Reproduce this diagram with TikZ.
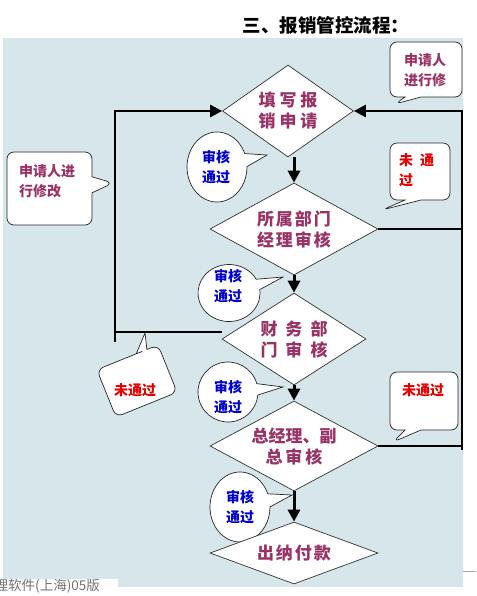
\documentclass[tikz,border=0pt]{standalone}
\usepackage{fontspec}
\newfontfamily\cjk{Noto Sans CJK SC}
\usetikzlibrary{shapes.geometric,shapes.callouts,arrows.meta}
\definecolor{bgc}{RGB}{214,230,234}
\definecolor{maroon}{RGB}{153,51,102}
\definecolor{okblue}{RGB}{0,0,204}
\definecolor{nored}{RGB}{228,0,0}
\begin{document}
\begin{tikzpicture}[x=1pt,y=1pt,
  dia/.style={diamond, draw=black!80, line width=0.7pt, fill=white, inner sep=0pt,
    align=center, text=maroon, font=\cjk\bfseries\fontsize{17}{21}\selectfont},
  flow/.style={line width=3pt, -{Triangle[length=12pt,width=12pt]}},
  loopline/.style={line width=2.6pt, line join=miter},
  looparrow/.style={line width=2.6pt, line join=miter, -{Triangle[length=12pt,width=12pt]}},
  bub/.style={rectangle callout, rounded corners=7pt, draw=black!85, line width=0.7pt,
    fill=white, inner sep=0pt, callout pointer width=16pt},
  ebub/.style={ellipse callout, draw=black!85, line width=0.7pt, fill=white,
    inner sep=0pt, callout pointer arc=22},
  btxt/.style={font=\cjk\bfseries\fontsize{14}{20}\selectfont, inner sep=0pt},
  oktxt/.style={btxt, text=okblue, align=center},
  notxt/.style={btxt, text=nored},
  modtxt/.style={btxt, text=maroon},
  foottxt/.style={anchor=base east, inner sep=0pt, text=black!55, font=\cjk\fontsize{13.5}{14}\selectfont}
]
\useasboundingbox (0,0) rectangle (476,-596);
\fill[white] (0,0) rectangle (476,-596);
% background
\fill[bgc] (3,-38) rectangle (463,-587);
\fill[white] (0,-579) rectangle (118,-596);
% bottom page text (partly hidden)
\begin{scope}
\clip (0,-579) rectangle (118,-596);
\node[foottxt] (foot) at (100,-590) {管理软件(上海)05版};
\end{scope}
\draw[black!35, line width=0.8pt] (463,-571) -- (476,-571);

% title
\node[font=\cjk\bfseries\fontsize{18.5}{20}\selectfont, inner sep=0pt] (title) at (326,-25) {三、报销管控流程：};

% ellipse callouts (behind diamonds)
\node[ebub, minimum width=60pt, minimum height=70pt, callout absolute pointer={(267,-155)}] (e1) at (217,-167) {};
\node[oktxt] (e1t) at (216,-167) {审核\\通过};
\node[ebub, minimum width=62pt, minimum height=57pt, callout absolute pointer={(283,-277)}] (e2) at (229,-293) {};
\node[oktxt] (e2t) at (228,-286) {审核\\通过};
\node[ebub, minimum width=60pt, minimum height=60pt, callout absolute pointer={(283,-387)}] (e3) at (228,-392) {};
\node[oktxt] (e3t) at (228,-397) {审核\\通过};
\node[ebub, minimum width=60pt, minimum height=70pt, callout absolute pointer={(292,-495)}] (e4) at (240,-507) {};
\node[oktxt] (e4t) at (240,-507) {审核\\通过};

% diamonds
\node[dia, minimum width=131pt, minimum height=92pt, aspect=1.42] (d1) at (288,-111)
  {填\hspace{4pt}写\hspace{4pt}报\\销\hspace{4pt}申\hspace{4pt}请};
\node[dia, minimum width=168pt, minimum height=92pt, aspect=1.83] (d2) at (294,-229)
  {所\hspace{2pt}属\hspace{2pt}部\hspace{2pt}门\\经\hspace{2pt}理\hspace{2pt}审\hspace{2pt}核};
\node[dia, minimum width=144pt, minimum height=92pt, aspect=1.57] (d3) at (294,-339)
  {财\hspace{8pt}务\hspace{8pt}部\\门\hspace{8pt}审\hspace{8pt}核};
\node[dia, minimum width=168pt, minimum height=90pt, aspect=1.87] (d4) at (294,-446)
  {总经理、副\\总\hspace{3pt}审\hspace{3pt}核};
\node[dia, minimum width=168pt, minimum height=62pt, aspect=2.7] (d5) at (294,-553)
  {出\hspace{2pt}纳\hspace{2pt}付\hspace{2pt}款};

% main flow arrows
\draw[flow] (d2.north |- d1.south) -- (d2.north);
\draw[flow] (d2.south) -- (d3.north);
\draw[flow] (d3.south) -- (d4.north);
\draw[flow] (d4.south) -- (d5.north);

% feedback loops
\coordinate (lt) at (115,-111);
\coordinate (lb) at (115,-332);
\coordinate (lx) at (115,-342);
\coordinate (rt) at (462,-111);
\coordinate (rb) at (462,-450);
\draw[looparrow] (lx) -- (lt) -- (d1.west);
\draw[loopline] (lb) -- (d3.west |- lb);
\draw[looparrow] (rb) -- (rt) -- (d1.east);
\draw[line width=2pt] (d2.east) -- (d2.east -| rt);
\draw[line width=2.2pt] (d4.east) -- (d4.east -| rt);

% rectangle callouts
\node[bub, minimum width=72pt, minimum height=55pt, callout absolute pointer={(395,-104)}] (c1) at (426,-69.5) {};
\node[modtxt, align=center] (c1t) at (425,-70) {申请人\\进行修};
\node[bub, minimum width=85pt, minimum height=73pt, callout absolute pointer={(113,-183)}] (c2) at (49.5,-188.5) {};
\node[modtxt, align=left, anchor=west] (c2t) at (19,-181) {申请人进\\行修改};
\node[bub, minimum width=60pt, minimum height=57pt, callout absolute pointer={(382,-210)}] (c3) at (420,-171.5) {};
\node[notxt, align=left, anchor=west] (c3t) at (399,-170) {未\hspace{7pt}通\\过};
% tilted callout, drawn directly
\begin{scope}[shift={(137,-381)}, rotate=22]
\filldraw[fill=white, draw=black!85, line width=0.7pt, rounded corners=7pt]
  (-10,25.5) -- (9,25.5) [sharp corners] -- (9.5,25.5) -- (25.4,41.5) -- (21,25.5)
  [rounded corners=7pt] -- (33,25.5) -- (33,-25.5) -- (-33,-25.5) -- (-33,25.5) -- cycle;
\end{scope}
\node[notxt] (c4t) at (135,-390) {未通过};
\node[bub, minimum width=68pt, minimum height=58pt, callout absolute pointer={(393,-442)}] (c5) at (424,-401) {};
\node[notxt] (c5t) at (423,-390) {未通过};
\end{tikzpicture}
\end{document}
